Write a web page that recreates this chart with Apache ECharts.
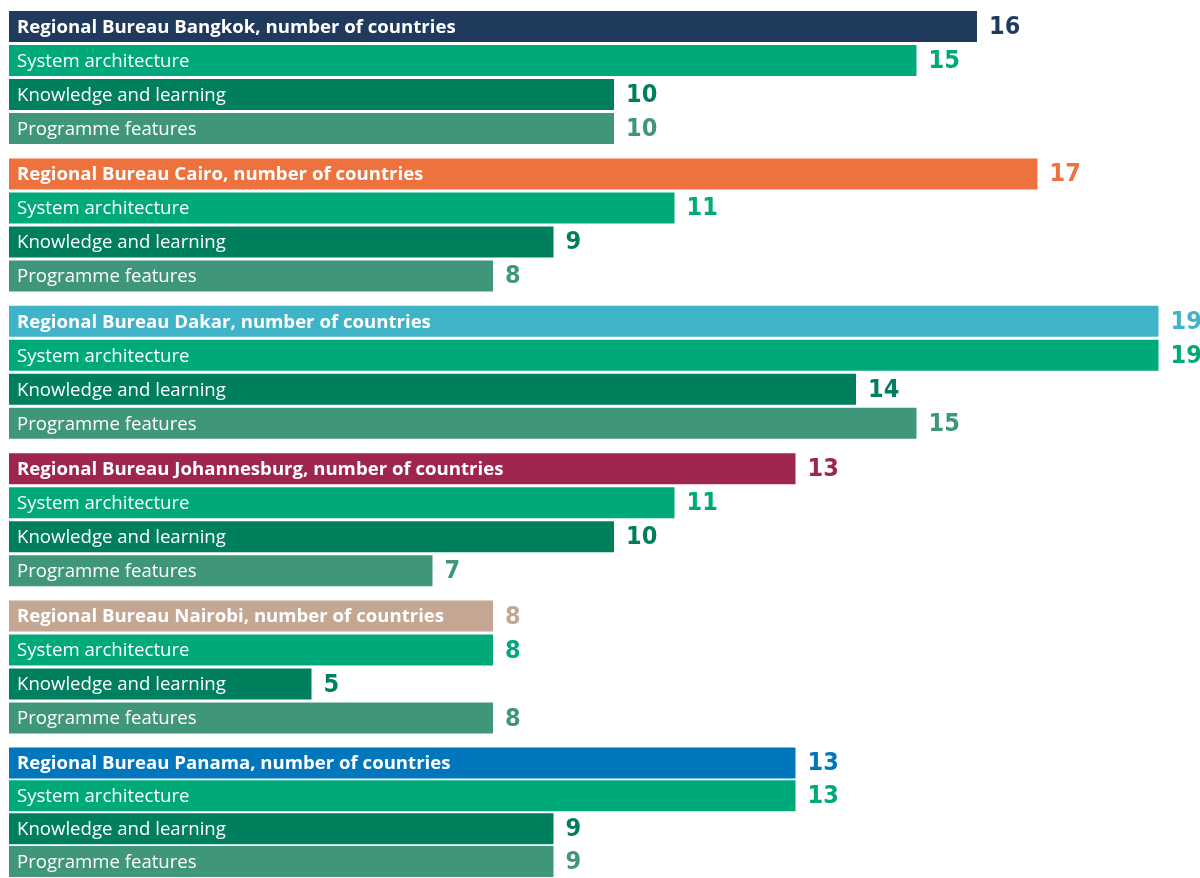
<!DOCTYPE html>
<html>
<head>
<meta charset="utf-8">
<script src="https://cdn.jsdelivr.net/npm/echarts@6/dist/echarts.min.js"></script>
<style>
  html, body { margin: 0; padding: 0; background: #fff; }
  #chart { width: 1200px; height: 878px; }
</style>
</head>
<body>
<div id="chart"></div>
<script>
// data
var regions = ["Bangkok", "Cairo", "Dakar", "Johannesburg", "Nairobi", "Panama"];
var countries = [16, 17, 19, 13, 8, 13];
var systemArchitecture = [15, 11, 19, 11, 8, 13];
var knowledgeLearning = [10, 9, 14, 10, 5, 9];
var programmeFeatures = [10, 8, 15, 7, 8, 9];
var rowLabels = ["System architecture", "Knowledge and learning", "Programme features"];

var headerColors = ["#1f3a5c", "#ee723e", "#3fb4c9", "#9e2550", "#c3a793", "#0077bd"];
var rowColors = ["#00a97a", "#007f5f", "#40967b"];

var myChart = echarts.init(document.getElementById("chart"));

var grids = [], xAxes = [], yAxes = [], series = [];
var groupTop = 9.5, groupStep = 147.4, rowH = 34;

regions.forEach(function (region, i) {
  var header = "Regional Bureau " + region + ", number of countries";
  var cats = [header].concat(rowLabels);
  var vals = [countries[i], systemArchitecture[i], knowledgeLearning[i], programmeFeatures[i]];
  var cols = [headerColors[i]].concat(rowColors);

  grids.push({ left: 9, right: 41.5, top: groupTop + i * groupStep, height: rowH * 4 });
  xAxes.push({ gridIndex: i, type: "value", min: 0, max: 19, show: false });
  yAxes.push({ gridIndex: i, type: "category", inverse: true, data: cats, show: false });

  // coloured bars with the name inside
  series.push({
    type: "bar",
    xAxisIndex: i, yAxisIndex: i,
    barWidth: 31,
    silent: true,
    data: vals.map(function (v, k) {
      return {
        value: v,
        itemStyle: { color: cols[k] },
        label: { fontWeight: k === 0 ? "bold" : "normal" }
      };
    }),
    label: {
      show: true,
      position: "insideLeft",
      distance: 8,
      offset: [0, 1],
      formatter: "{b}",
      color: "#ffffff",
      fontFamily: "Open Sans",
      fontSize: 18.6
    }
  });

  // transparent copy, carries the value label at the bar end
  series.push({
    type: "bar",
    xAxisIndex: i, yAxisIndex: i,
    barWidth: 31,
    barGap: "-100%",
    silent: true,
    data: vals.map(function (v, k) {
      return {
        value: v,
        itemStyle: { color: "rgba(0,0,0,0)" },
        label: { color: cols[k] }
      };
    }),
    label: {
      show: true,
      position: "right",
      distance: 12,
      offset: [0, 1],
      fontFamily: "'DejaVu Sans Condensed', Roboto, sans-serif",
      fontWeight: "bold",
      fontSize: 25
    }
  });
});

myChart.setOption({
  animation: false,
  grid: grids,
  xAxis: xAxes,
  yAxis: yAxes,
  series: series
});
</script>
</body>
</html>
